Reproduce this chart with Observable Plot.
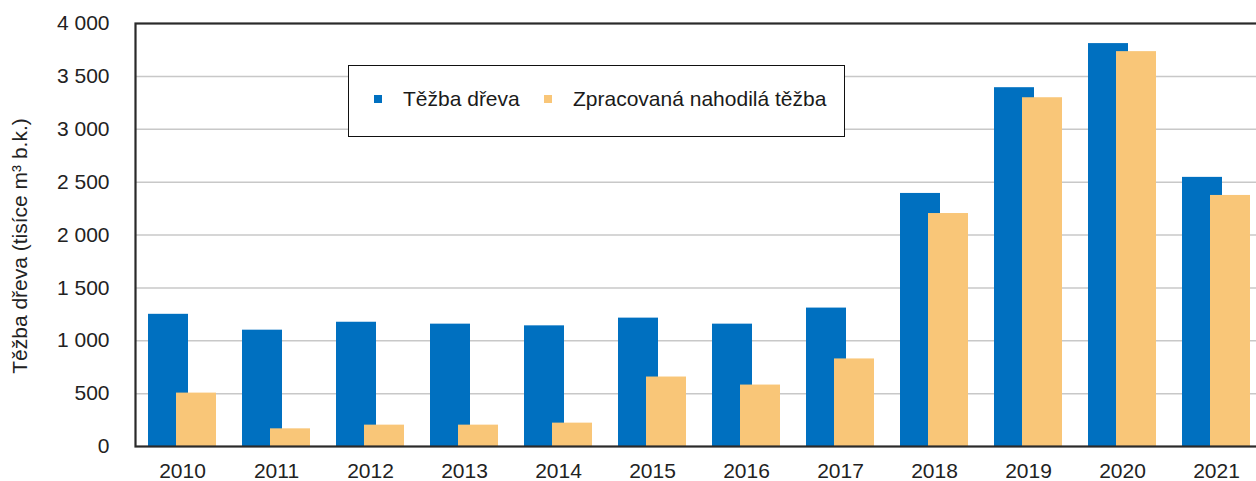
<!DOCTYPE html>
<html>
<head>
<meta charset="utf-8">
<script src="https://cdn.jsdelivr.net/npm/d3@7"></script>
<script src="https://cdn.jsdelivr.net/npm/@observablehq/plot@0.6"></script>
<style>
  html, body { margin: 0; padding: 0; background: #fff; overflow: hidden; }
  #wrap { position: relative; width: 1256px; height: 481px; font-family: "Liberation Sans", Arial, sans-serif; }
  #legend {
    position: absolute; left: 348px; top: 65px; width: 495px; height: 70px;
    border: 1.5px solid #111; background: #fff; box-sizing: content-box;
    font-size: 21px; color: #1a1a1a;
  }
  #legend .item { position: absolute; top: 21px; display: flex; align-items: center; white-space: nowrap; }
  #legend .sw { width: 8px; height: 8px; margin-right: 21px; }
</style>
</head>
<body>
<div id="wrap">
  <div id="chart"></div>
  <div id="legend"></div>
</div>
<script>
// ---- data ----
const years = ["2010","2011","2012","2013","2014","2015","2016","2017","2018","2019","2020","2021"];
const tezbaDreva = [1250, 1100, 1175, 1157, 1141, 1214, 1157, 1309, 2393, 3393, 3810, 2545];
const nahodilaTezba = [505, 167, 202, 202, 221, 657, 581, 828, 2203, 3298, 3734, 2374];
const seriesNames = ["Těžba dřeva", "Zpracovaná nahodilá těžba"];
const seriesColors = ["#0070C0", "#F9C678"];
const yTicks = [0, 500, 1000, 1500, 2000, 2500, 3000, 3500, 4000];
const gridValues = [500, 1000, 1500, 2000, 2500, 3000, 3500];
const yLabel = "Těžba dřeva (tisíce m³ b.k.)";

// ---- tables ----
const rowsA = years.map((y, i) => ({year: y, series: seriesNames[0], value: tezbaDreva[i]}));
const rowsB = years.map((y, i) => ({year: y, series: seriesNames[1], value: nahodilaTezba[i]}));

const fmt = d3.formatLocale({decimal: ",", thousands: " ", grouping: [3], currency: ["", ""]}).format(",d");

const step = 94.05;
const chart = Plot.plot({
  width: 1256,
  height: 481,
  marginLeft: 135,
  marginRight: 0,
  marginTop: 23,
  marginBottom: 35,
  style: {fontFamily: "'Liberation Sans', Arial, sans-serif", fontSize: "21px", color: "#222", background: "#fff"},
  x: {type: "band", domain: years, range: [135, 135 + years.length * step], padding: 0, label: null},
  y: {domain: [0, 4000], range: [446, 23], label: null},
  marks: [
    Plot.ruleY(gridValues, {stroke: "#c8c8c8", strokeWidth: 1.5}),
    Plot.barY(rowsA, {x: "year", y: "value", fill: seriesColors[0], insetLeft: 13, insetRight: 41}),
    Plot.barY(rowsB, {x: "year", y: "value", fill: seriesColors[1], insetLeft: 41, insetRight: 13}),
    Plot.frame({stroke: "#2a2a2a", strokeWidth: 2.2, insetRight: -20}),
    Plot.axisY({ticks: yTicks, tickSize: 0, tickPadding: 26, tickFormat: fmt, label: null, fontSize: 21}),
    Plot.axisX({tickSize: 0, tickPadding: 17, label: null, fontSize: 21}),
    Plot.text([yLabel], {frameAnchor: "left", text: d => d, textAnchor: "middle", rotate: -90, dx: -115, dy: 11, fontSize: 21, fill: "#222"})
  ]
});
document.getElementById("chart").appendChild(chart);

// ---- legend ----
const legend = document.getElementById("legend");
const lefts = [25, 195];
seriesNames.forEach((name, i) => {
  const item = document.createElement("div");
  item.className = "item";
  item.style.left = lefts[i] + "px";
  const sw = document.createElement("span");
  sw.className = "sw";
  sw.style.background = seriesColors[i];
  const tx = document.createElement("span");
  tx.textContent = name;
  item.appendChild(sw);
  item.appendChild(tx);
  legend.appendChild(item);
});
</script>
</body>
</html>
